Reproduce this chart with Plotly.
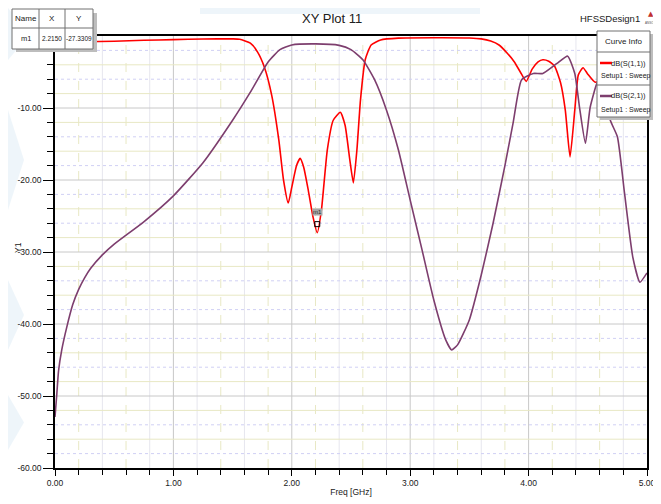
import plotly.graph_objects as go

# ---------------- data ----------------
s11_freq = [0.0, 0.25, 0.5, 0.75, 1.0, 1.25, 1.5, 1.56, 1.65, 1.71, 1.77, 1.83, 1.89, 1.93, 1.97,
            2.0, 2.04, 2.07, 2.1, 2.14, 2.18, 2.215, 2.25, 2.3, 2.35, 2.41, 2.45, 2.49, 2.52,
            2.55, 2.58, 2.62, 2.67, 2.75, 2.9, 3.2, 3.5, 3.6, 3.68, 3.75, 3.82, 3.88, 3.93,
            3.98, 4.03, 4.08, 4.12, 4.17, 4.22, 4.27, 4.31, 4.35, 4.39, 4.42, 4.46, 4.5,
            4.56, 4.65, 4.8, 5.0]
s11_db = [-0.85, -0.8, -0.72, -0.6, -0.5, -0.42, -0.4, -0.45, -1.0, -2.2, -4.4, -8.2, -14.4, -20.0, -23.2,
          -21.0, -18.0, -17.0, -18.2, -21.5, -25.2, -27.33, -24.2, -15.8, -11.7, -10.6, -12.4, -17.2, -20.4,
          -15.8, -8.9, -3.3, -1.25, -0.55, -0.3, -0.25, -0.28, -0.4, -0.7, -1.25, -2.4, -3.6, -5.0,
          -6.3, -4.6, -3.6, -3.3, -3.5, -4.2, -6.5, -10.3, -16.8, -10.3, -5.4, -4.4, -5.3,
          -6.4, -6.2, -6.6, -7.0]

s21_freq = [0.0, 0.014, 0.03, 0.057, 0.1, 0.15, 0.2, 0.25, 0.3, 0.4, 0.5, 0.75, 1.0, 1.25, 1.5, 1.65, 1.8,
            1.9, 2.0, 2.2, 2.4, 2.5, 2.6, 2.7, 2.8, 2.9, 3.0, 3.1, 3.2, 3.3, 3.35, 3.4, 3.5, 3.6,
            3.7, 3.8, 3.87, 3.94, 4.04, 4.12, 4.24, 4.33, 4.39, 4.43, 4.48, 4.52, 4.58, 4.62,
            4.69, 4.75, 4.81, 4.88, 4.94, 5.0]
s21_db = [-52.9, -50.0, -46.5, -43.6, -40.4, -37.3, -35.2, -33.6, -32.3, -30.4, -28.9, -25.8, -22.2, -17.6, -11.7, -7.8, -3.6,
          -1.9, -1.25, -1.1, -1.3, -1.9, -3.3, -6.1, -10.3, -15.8, -22.8, -29.7, -36.7, -42.2, -43.6, -42.9, -39.4, -33.2,
          -26.0, -18.0, -12.0, -6.1, -5.2, -5.2, -3.8, -2.8, -5.2, -9.9, -14.9, -9.9, -6.5, -6.0,
          -11.7, -14.0, -21.8, -30.7, -34.2, -32.9]

marker_name = "m1"
marker_x = 2.215
marker_y = -27.3309

x_ticks = [0, 1, 2, 3, 4, 5]
y_ticks = [-60, -50, -40, -30, -20, -10]

curve_names = ["dB(S(1,1))", "dB(S(2,1))"]
curve_sub = "Setup1 : Sweep"
colors = ["#FF0000", "#7D3E6E"]

FONT = "Liberation Sans Narrow, Arial Narrow, Liberation Sans, Arial, sans-serif"

# ---------------- figure ----------------
# page is 661x504; the html body adds an 8px offset, so the figure is 653x496
OFF = 8
W, H = 661 - OFF, 504 - OFF
L, R, T, B = 55, 647, 36, 468   # plot area in page pixels


def px(xp):
    return (xp - L) / (R - L)


def py(yp):
    return (B - yp) / (B - T)


fig = go.Figure()

fig.add_trace(go.Scatter(x=s11_freq, y=s11_db, mode="lines", name=curve_names[0],
                         line=dict(color=colors[0], width=1.6, shape="spline", smoothing=0.5),
                         showlegend=False))
fig.add_trace(go.Scatter(x=s21_freq, y=s21_db, mode="lines", name=curve_names[1],
                         line=dict(color=colors[1], width=1.6, shape="spline", smoothing=0.5),
                         showlegend=False))

shapes = []
# faint background watermark
wm = "rgba(205,225,242,0.35)"
for (x0, y0, x1, y1) in [(8, 8, 30, 60), (8, 110, 24, 210), (8, 280, 24, 350), (8, 395, 24, 450)]:
    shapes.append(dict(type="path", xref="paper", yref="paper",
                       path=f"M {px(x0)},{py(y0)} L {px(x1)},{py((y0 + y1) / 2)} L {px(x0)},{py(y1)} Z",
                       fillcolor=wm, line=dict(width=0), layer="below"))
shapes.append(dict(type="rect", xref="paper", yref="paper", x0=px(200), x1=px(480), y0=py(14), y1=py(8),
                   fillcolor=wm, line=dict(width=0), layer="below"))

# grid: vertical
for i in range(1, 25):
    v = i * 0.2
    if i % 5 == 0:
        shapes.append(dict(type="line", xref="x", yref="paper", x0=v, x1=v, y0=0, y1=1,
                           line=dict(color="#C8C8C8", width=1), layer="below"))
    elif i % 2 == 1:
        shapes.append(dict(type="line", xref="x", yref="paper", x0=v, x1=v, y0=0, y1=1,
                           line=dict(color="#E8E8C4", width=1, dash="dash"), layer="below"))
    else:
        shapes.append(dict(type="line", xref="x", yref="paper", x0=v, x1=v, y0=0, y1=1,
                           line=dict(color="#E6E6EE", width=1), layer="below"))
# grid: horizontal
for k in range(1, 30):
    v = -2 * k
    if v % 10 == 0:
        shapes.append(dict(type="line", xref="paper", yref="y", x0=0, x1=1, y0=v, y1=v,
                           line=dict(color="#C8C8C8", width=1), layer="below"))
    elif (-v) % 4 == 0:
        shapes.append(dict(type="line", xref="paper", yref="y", x0=0, x1=1, y0=v, y1=v,
                           line=dict(color="#E8E8C4", width=1), layer="below"))
    else:
        shapes.append(dict(type="line", xref="paper", yref="y", x0=0, x1=1, y0=v, y1=v,
                           line=dict(color="#D0D0F4", width=1, dash="dot"), layer="below"))

annotations = []

# marker table (top-left)
tx0, tx1, ty0, ty1 = 12, 93, 9, 49
shapes.append(dict(type="rect", xref="paper", yref="paper", x0=px(tx0 + 4), x1=px(tx1 + 4),
                   y0=py(ty1 + 3), y1=py(ty0 + 4), fillcolor="#BDBDBD", line=dict(width=0), layer="above"))
shapes.append(dict(type="rect", xref="paper", yref="paper", x0=px(tx0), x1=px(tx1),
                   y0=py(ty1), y1=py(ty0), fillcolor="white", line=dict(color="#707070", width=1), layer="above"))
for cx in [39, 65]:
    shapes.append(dict(type="line", xref="paper", yref="paper", x0=px(cx), x1=px(cx),
                       y0=py(ty1), y1=py(ty0), line=dict(color="#707070", width=1), layer="above"))
shapes.append(dict(type="line", xref="paper", yref="paper", x0=px(tx0), x1=px(tx1),
                   y0=py(28), y1=py(28), line=dict(color="#707070", width=1), layer="above"))
cells = [("Name", 25.5, 18.5, 8), ("X", 52, 18.5, 8), ("Y", 79, 18.5, 8),
         (marker_name, 25.5, 39, 7.5), (f"{marker_x:.4f}", 52, 39, 6.5), (f"{marker_y:.4f}", 79, 39, 6.5)]
for txt, cxp, cyp, fs in cells:
    annotations.append(dict(text=txt, xref="paper", yref="paper", x=px(cxp), y=py(cyp),
                            showarrow=False, font=dict(family=FONT, size=fs, color="#202020"),
                            xanchor="center", yanchor="middle"))

# marker on the curve
fig.add_trace(go.Scatter(x=[marker_x], y=[marker_y + 1.2], mode="markers",
                         marker=dict(symbol="square-open", size=5, color="black", line=dict(width=1)),
                         showlegend=False, hoverinfo="skip"))
annotations.append(dict(text=marker_name, x=marker_x, y=marker_y + 2.9, xref="x", yref="y",
                        showarrow=False, font=dict(family=FONT, size=6, color="#303030"),
                        bgcolor="#A8A8A8", borderpad=0))

# curve info box
lx0, lx1, ly0, ly1 = 597, 650, 31, 117
shapes.append(dict(type="rect", xref="paper", yref="paper", x0=px(lx0 + 3), x1=px(lx1 + 3),
                   y0=py(ly1 + 3), y1=py(ly0 + 3), fillcolor="#BDBDBD", line=dict(width=0), layer="above"))
shapes.append(dict(type="rect", xref="paper", yref="paper", x0=px(lx0), x1=px(lx1),
                   y0=py(ly1), y1=py(ly0), fillcolor="white", line=dict(color="#707070", width=1), layer="above"))
for sy in [52, 85]:
    shapes.append(dict(type="line", xref="paper", yref="paper", x0=px(lx0), x1=px(lx1),
                       y0=py(sy), y1=py(sy), line=dict(color="#707070", width=1), layer="above"))
annotations.append(dict(text="Curve Info", xref="paper", yref="paper", x=px(623.5), y=py(42),
                        showarrow=False, font=dict(family=FONT, size=8, color="#202020"),
                        xanchor="center", yanchor="middle"))
for i, (yy1, yy2) in enumerate([(63, 76), (96, 110)]):
    shapes.append(dict(type="line", xref="paper", yref="paper", x0=px(600), x1=px(612),
                       y0=py(yy1), y1=py(yy1), line=dict(color=colors[i], width=2.5), layer="above"))
    annotations.append(dict(text=curve_names[i], xref="paper", yref="paper", x=px(648), y=py(yy1),
                            showarrow=False, xanchor="right", yanchor="middle",
                            font=dict(family=FONT, size=7.5, color="#202020")))
    annotations.append(dict(text=curve_sub, xref="paper", yref="paper", x=px(598.5), y=py(yy2),
                            showarrow=False, xanchor="left", yanchor="middle",
                            font=dict(family=FONT, size=7, color="#202020")))

# header texts
annotations.append(dict(text="XY Plot 11", xref="paper", yref="paper", x=px(332), y=py(19),
                        showarrow=False, font=dict(family=FONT, size=13, color="#202020"),
                        xanchor="center", yanchor="middle"))
annotations.append(dict(text="HFSSDesign1", xref="paper", yref="paper", x=px(610), y=py(19),
                        showarrow=False, font=dict(family=FONT, size=9.5, color="#202020"),
                        xanchor="center", yanchor="middle"))
annotations.append(dict(text="▲", xref="paper", yref="paper", x=px(651), y=py(14),
                        showarrow=False, font=dict(family="DejaVu Sans", size=7, color="#C03030"),
                        xanchor="center", yanchor="middle"))
annotations.append(dict(text="ANSOFT", xref="paper", yref="paper", x=px(651), y=py(23),
                        showarrow=False, font=dict(family=FONT, size=3, color="#505050"),
                        xanchor="center", yanchor="middle"))
# y-axis title
annotations.append(dict(text="Y1", xref="paper", yref="paper", x=px(18), y=py(248),
                        showarrow=False, textangle=-90, font=dict(family=FONT, size=8.5, color="#202020"),
                        xanchor="center", yanchor="middle"))

fig.update_layout(
    width=W, height=H,
    margin=dict(l=L - OFF, r=(661 - R), t=T - OFF, b=(504 - B)),
    paper_bgcolor="white", plot_bgcolor="white",
    font=dict(family=FONT, size=9, color="#202020"),
    shapes=shapes, annotations=annotations,
    xaxis=dict(range=[0, 5], tickvals=x_ticks, ticktext=[f"{v:.2f}" for v in x_ticks],
               ticks="outside", ticklen=6, tickcolor="black", showgrid=False, zeroline=False,
               showline=True, linecolor="black", linewidth=1.5, mirror=True, automargin=False,
               minor=dict(tickmode="array", tickvals=[i * 0.2 for i in range(26) if i % 5],
                          ticks="outside", ticklen=5, tickcolor="black", showgrid=False),
               tickfont=dict(family=FONT, size=8.5),
               title=dict(text="Freq [GHz]", font=dict(family=FONT, size=8.5), standoff=2)),
    yaxis=dict(range=[-60, 0], tickvals=y_ticks, ticktext=[f"{v:.2f}" for v in y_ticks],
               ticks="outside", ticklen=10, tickcolor="black", showgrid=False, zeroline=False,
               showline=True, linecolor="black", linewidth=1.5, mirror=True, automargin=False,
               minor=dict(tickmode="array", tickvals=[-2 * k for k in range(1, 30) if k % 5],
                          ticks="outside", ticklen=6, tickcolor="black", showgrid=False),
               tickfont=dict(family=FONT, size=8.5)),
)

fig.write_html("out.html")
